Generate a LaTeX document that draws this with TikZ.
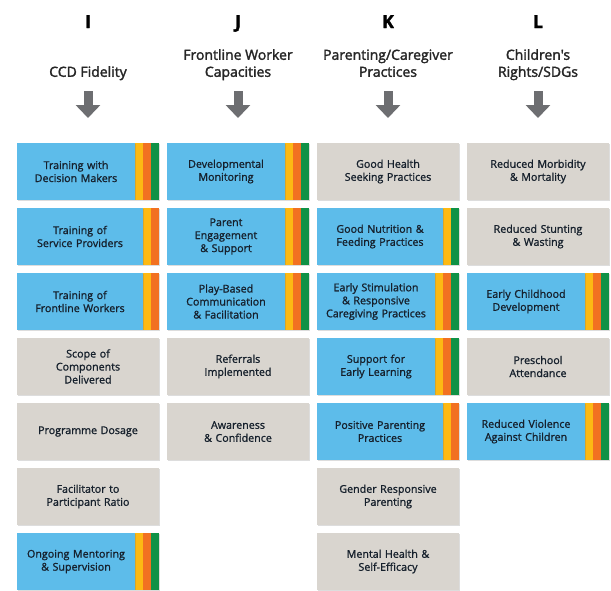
\documentclass[tikz,border=0pt]{standalone}
\usepackage{fontspec}
\setmainfont{Open Sans}
\newfontfamily\semifont{Open Sans}[FakeBold=2]
\newfontfamily\boxfont{Open Sans}[FakeBold=1.2]
\usepackage{tikz}
\usetikzlibrary{arrows.meta,positioning,shadows}
\definecolor{cblue}{RGB}{93,188,234}
\definecolor{cgrey}{RGB}{217,213,207}
\definecolor{cyellow}{RGB}{253,185,19}
\definecolor{corange}{RGB}{242,113,33}
\definecolor{cgreen}{RGB}{16,146,70}
\definecolor{carrow}{RGB}{109,110,113}
\definecolor{ctext}{RGB}{22,32,44}

\begin{document}
\begin{tikzpicture}[
    x=1pt, y=-1pt,
    letter/.style={
        anchor=base,
        font=\fontsize{18}{20}\selectfont\bfseries\addfontfeatures{FakeBold=1.5},
        text=black
    },
    heading/.style={
        anchor=south,
        align=center,
        inner sep=0pt,
        text depth=3pt,
        font=\fontsize{14}{17}\selectfont\semifont,
        text=black!85
    },
    down/.style={
        -{Triangle[width=24pt,length=13pt]},
        line width=9pt,
        draw=carrow
    },
    outcome/.style={
        rectangle,
        fill=cgrey,
        text=ctext,
        text width=142pt,
        minimum height=57pt,
        inner sep=0pt,
        outer sep=0pt,
        align=center,
        font=\fontsize{10.7}{13}\selectfont\boxfont,
        drop shadow={shadow xshift=1pt, shadow yshift=-1.2pt, fill=black!60, opacity=0.22}
    },
    stripes/.style={
        append after command={\pgfextra{\let\boxnode\tikzlastnode
            \foreach \c [count=\i from 0] in {#1} {
                \fill[\c, drop shadow={shadow xshift=1pt, shadow yshift=-1.2pt, fill=black!60, opacity=0.22}]
                    ([xshift={8pt*\i}]\boxnode.north east) rectangle ([xshift={8pt*\i+8pt}]\boxnode.south east);
            }}}
    },
    bars/.style={outcome, fill=cblue, text width=118pt, stripes={cyellow,corange,cgreen}},
    bars2/.style={outcome, fill=cblue, text width=126pt, stripes={#1}}
]
\useasboundingbox (0,0) rectangle (611,590);

% Column headers
\node[letter] (li) at (88,28) {I};
\node[letter] (lj) at (238,28) {J};
\node[letter] (lk) at (388,28) {K};
\node[letter] (ll) at (538,28) {L};

\node[heading] (fidelity) at (88,80) {CCD Fidelity};
\node[heading] (capacities) at (238,80) {Frontline Worker\\Capacities};
\node[heading] (practices) at (388,80) {Parenting/Caregiver\\Practices};
\node[heading] (rights) at (538,80) {Children's\\Rights/SDGs};

% Column I: CCD Fidelity
\node[bars, anchor=north west] (dmakers) at (17,143) {Training with\\Decision Makers};
\node[bars2={cyellow,corange}, below=8pt of dmakers.south west, anchor=north west] (providers) {Training of\\Service Providers};
\node[bars2={cyellow,corange}, below=8pt of providers.south west, anchor=north west] (workers) {Training of\\Frontline Workers};
\node[outcome, below=8pt of workers.south west, anchor=north west] (scope) {Scope of\\Components\\Delivered};
\node[outcome, below=8pt of scope.south west, anchor=north west] (dosage) {Programme Dosage};
\node[outcome, below=8pt of dosage.south west, anchor=north west] (ratio) {Facilitator to\\Participant Ratio};
\node[bars, below=8pt of ratio.south west, anchor=north west] (mentoring) {Ongoing Mentoring\\\& Supervision};

% Column J: Frontline Worker Capacities
\node[bars, anchor=north west] (monitoring) at (167,143) {Developmental\\Monitoring};
\node[bars, below=8pt of monitoring.south west, anchor=north west] (engage) {Parent\\Engagement\\\& Support};
\node[bars, below=8pt of engage.south west, anchor=north west] (play) {Play-Based\\Communication\\\& Facilitation};
\node[outcome, below=8pt of play.south west, anchor=north west] (referrals) {Referrals\\Implemented};
\node[outcome, below=8pt of referrals.south west, anchor=north west] (aware) {Awareness\\\& Confidence};

% Column K: Parenting/Caregiver Practices
\node[outcome, anchor=north west] (health) at (317,143) {Good Health\\Seeking Practices};
\node[bars2={cyellow,cgreen}, below=8pt of health.south west, anchor=north west] (nutrition) {Good Nutrition \&\\Feeding Practices};
\node[bars, below=8pt of nutrition.south west, anchor=north west] (stimulation) {Early Stimulation\\\& Responsive\\Caregiving Practices};
\node[bars, below=8pt of stimulation.south west, anchor=north west] (learning) {Support for\\Early Learning};
\node[bars2={cyellow,corange}, below=8pt of learning.south west, anchor=north west] (positive) {Positive Parenting\\Practices};
\node[outcome, below=8pt of positive.south west, anchor=north west] (gender) {Gender Responsive\\Parenting};
\node[outcome, below=8pt of gender.south west, anchor=north west] (mental) {Mental Health \&\\Self-Efficacy};

% Column L: Children's Rights/SDGs
\node[outcome, anchor=north west] (morbidity) at (467,143) {Reduced Morbidity\\\& Mortality};
\node[outcome, below=8pt of morbidity.south west, anchor=north west] (stunting) {Reduced Stunting\\\& Wasting};
\node[bars, below=8pt of stunting.south west, anchor=north west] (ecd) {Early Childhood\\Development};
\node[outcome, below=8pt of ecd.south west, anchor=north west] (preschool) {Preschool\\Attendance};
\node[bars, below=8pt of preschool.south west, anchor=north west] (violence) {Reduced Violence\\Against Children};

% Heading arrows
\draw[down] ([yshift=-11pt]fidelity.south) -- ([yshift=25pt]fidelity.south |- dmakers.north);
\draw[down] ([yshift=-11pt]capacities.south) -- ([yshift=25pt]capacities.south |- monitoring.north);
\draw[down] ([yshift=-11pt]practices.south) -- ([yshift=25pt]practices.south |- health.north);
\draw[down] ([yshift=-11pt]rights.south) -- ([yshift=25pt]rights.south |- morbidity.north);

\end{tikzpicture}
\end{document}
